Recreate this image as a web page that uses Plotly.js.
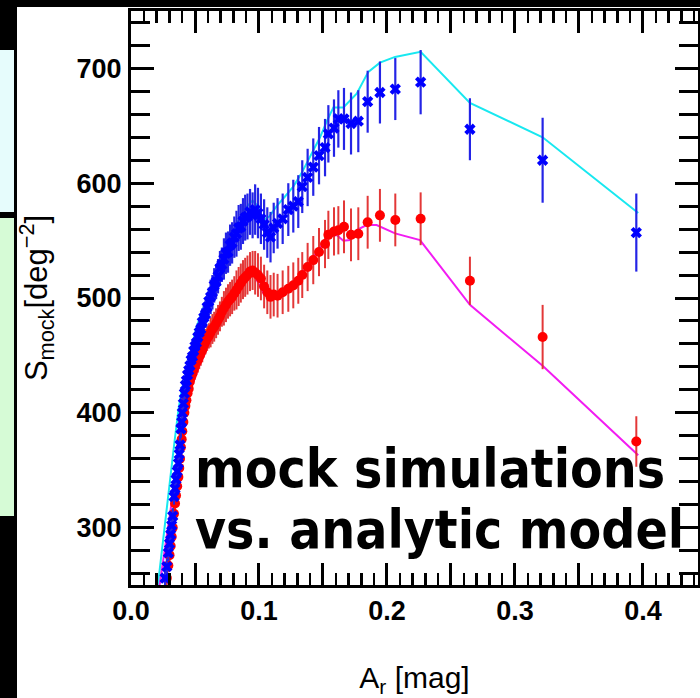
<!DOCTYPE html>
<html>
<head>
<meta charset="utf-8">
<script src="https://cdn.plot.ly/plotly-3.0.1.min.js"></script>
<style>
  html, body { margin: 0; padding: 0; background: #ffffff; }
  #chart { width: 700px; height: 698px; }
</style>
</head>
<body>
<div id="chart"></div>
<script>
// ---- data ----
const arMag = [0.0266,0.0280,0.0292,0.0301,0.0310,0.0318,0.0326,0.0336,0.0344,0.0352,
  0.0361,0.0370,0.0377,0.0383,0.0390,0.0396,0.0401,0.0409,0.0417,0.0425,
  0.0433,0.0442,0.0451,0.0460,0.0470,0.0480,0.0490,0.0500,0.0511,0.0522,
  0.0533,0.0545,0.0557,0.0569,0.0582,0.0595,0.0608,0.0622,0.0636,0.0650,
  0.0665,0.0680,0.0695,0.0710,0.0726,0.0742,0.0758,0.0774,0.0790,0.0807,
  0.0824,0.0841,0.0858,0.0875,0.0892,0.0910,0.0930,0.0950,0.0970,0.0992,
  0.1015,0.1040,0.1065,0.1090,0.1115,0.1145,0.1185,0.1229,0.1268,0.1307,
  0.1338,0.1380,0.1424,0.1469,0.1516,0.1542,0.1586,0.1620,0.1664,0.1719,
  0.1776,0.1849,0.1945,0.2065,0.2263,0.2648,0.3216,0.3948];

const mockBlue = [256,266,278,286,294,302,310,327,334,342,
  349,356,364,372,386,392,400,408,417,424,
  428,433,437,441,446,449,454,458,461,466,
  470,473,479,483,486,492,497,501,505,511,
  514,519,526,529,534,539,540,546,548,553,
  556,561,562,567,570,571,575,572,577,574,
  569,564,557,553,561,565,569,577,580,584,
  597,605,614,624,631,643,648,656,656,652,
  654,671,679,682,688,647,620,557];

const errBlue = [7,7,7,7,7,7,7,7,7,7,7,7,7,
  8,8,8,8,8,8,8,
  10,10,10,10,10,10,10,10,
  12,12,12,12,12,12,12,12,12,
  15,15,15,15,15,15,15,
  18,18,18,18,18,18,
  20,20,20,20,20,20,20,20,
  22,22,22,22,22,22,22,22,22,
  23,23,23,23,
  25,25,25,25,25,25,25,
  27,27,27,27,27,27,
  28,27,37,34];

const mockRed = [244,256,267,276,284,292,300,312,321,328,
  336,344,352,360,370,377,384,392,400,406,
  411,417,421,427,431,434,438,441,444,446,
  449,452,455,459,462,465,467,470,473,475,
  478,481,484,488,491,494,497,499,501,504,
  507,510,513,516,518,520,523,524,522,520,
  517,510,505,501,503,502,505,508,511,515,
  520,527,533,540,547,555,558,559,562,555,
  556,566,572,568,569,515,466,375];

const errRed = [6,6,6,6,6,6,6,6,6,6,6,6,6,
  7,7,7,7,7,7,7,
  9,9,9,9,9,9,9,9,
  11,11,11,11,11,11,11,11,11,
  13,13,13,13,13,13,13,
  15,15,15,15,15,15,
  17,17,17,17,17,17,17,17,
  19,19,19,19,19,19,19,19,19,
  20,20,20,20,
  21,21,21,21,21,21,21,
  23,23,23,23,23,23,
  23,21,28,22];

const modelBlueX = [0.0200,0.0214,0.0260,0.0300,0.0340,0.0370,0.0396,0.0435,0.0470,0.0513,
  0.0560,0.0614,0.0690,0.0742,0.0800,0.0840,0.0900,0.0950,0.0990,0.1034,
  0.1080,0.1138,0.1200,0.1268,0.1334,0.1372,0.1420,0.1477,0.1530,0.1581,
  0.1659,0.1763,0.1854,0.1945,0.2063,0.2263,0.2648,0.3216,0.3963];
const modelBlueY = [240,254,298,337,375,402,420,436,455,475,
  490,504,522,540,556,568,579,585,580,568,
  571,580,588,597,609,617,628,640,654,666,
  666,678,697,705,710,714.5,670,640,574];

const modelRedX = [0.0200,0.0240,0.0280,0.0320,0.0360,0.0400,0.0440,0.0480,0.0530,0.0600,
  0.0680,0.0760,0.0840,0.0900,0.0950,0.1000,0.1040,0.1090,0.1150,0.1230,
  0.1300,0.1399,0.1477,0.1541,0.1607,0.1659,0.1711,0.1763,0.1841,0.1919,
  0.2063,0.2258,0.2648,0.3216,0.3963];
const modelRedY = [232,262,292,322,355,385,408,425,440,458,
  477,494,507,517,523,512,503,500,502,508,
  516,531.6,543,553.4,554.9,549.9,550.5,559.2,563.6,563.6,
  556.3,550.5,494,441,363];

const xTitle = 'A<sub>r</sub> [mag]';
const yTitle = 'S<sub>mock</sub>[deg<sup>\u22122</sup>]';
const noteLines = ['<b>mock simulations</b>', '<b>vs. analytic model</b>'];

// ---- layout helpers (pixel -> paper) ----
const L = 131, R = 698, T = 11, B = 585;
const fx = p => (p - L) / (R - L);
const fy = p => (B - p) / (B - T);

const traces = [
  { x: modelBlueX, y: modelBlueY, type: 'scatter', mode: 'lines',
    line: { color: '#18e8f0', width: 2 }, hoverinfo: 'skip' },
  { x: modelRedX, y: modelRedY, type: 'scatter', mode: 'lines',
    line: { color: '#f21cf2', width: 2 }, hoverinfo: 'skip' },
  { x: arMag, y: mockRed, type: 'scatter', mode: 'markers',
    marker: { symbol: 'circle', size: 10, color: '#ff0000' },
    error_y: { type: 'data', array: errRed, color: 'rgba(225,45,45,0.95)', thickness: 2, width: 0 } },
  { x: arMag, y: mockBlue, type: 'scatter', mode: 'markers',
    marker: { symbol: 'x', size: 10, color: '#0000ff' },
    error_y: { type: 'data', array: errBlue, color: '#2424e6', thickness: 2.2, width: 0 } }
];

const tickFont = { family: 'Liberation Sans, Arial, sans-serif', size: 27, color: '#000', weight: 'bold' };
const titleFont = { family: 'Liberation Sans, Arial, sans-serif', size: 30, color: '#000' };
const noteFont = { family: 'DejaVu Sans Condensed, DejaVu Sans, sans-serif', size: 53, color: '#000' };

const layout = {
  width: 700, height: 698,
  margin: { l: L, r: 700 - R, t: T, b: 698 - B, pad: 0 },
  paper_bgcolor: '#ffffff', plot_bgcolor: '#ffffff',
  showlegend: false,
  xaxis: {
    range: [0, 0.443], tickmode: 'linear', tick0: 0, dtick: 0.05, ticklabelstep: 2,
    tickformat: '.1f', ticks: 'inside', ticklen: 22, tickwidth: 3, tickcolor: '#000',
    minor: { dtick: 0.01, ticks: 'inside', ticklen: 12, tickwidth: 2.5, tickcolor: '#000' },
    showline: true, linewidth: 3, linecolor: '#000', mirror: 'allticks',
    showgrid: false, zeroline: false, tickfont: tickFont, ticklabelstandoff: 0,
    title: { text: xTitle, font: titleFont, standoff: 48 }
  },
  yaxis: {
    range: [250, 750], tickmode: 'linear', tick0: 0, dtick: 100,
    ticks: 'inside', ticklen: 23, tickwidth: 3, tickcolor: '#000',
    minor: { dtick: 20, ticks: 'inside', ticklen: 19, tickwidth: 3, tickcolor: '#000' },
    showline: true, linewidth: 3, linecolor: '#000', mirror: 'allticks',
    showgrid: false, zeroline: false, tickfont: tickFont, ticklabelstandoff: 1,
    title: { text: yTitle, font: { family: 'Liberation Sans, Arial, sans-serif', size: 31, color: '#000' }, standoff: 20 }
  },
  shapes: [
    { type: 'rect', xref: 'paper', yref: 'paper', x0: fx(0), x1: fx(700), y0: fy(7), y1: fy(0),
      fillcolor: '#000', line: { width: 0 }, layer: 'above' },
    { type: 'rect', xref: 'paper', yref: 'paper', x0: fx(0), x1: fx(17), y0: fy(698), y1: fy(0),
      fillcolor: '#000', line: { width: 0 }, layer: 'above' },
    { type: 'rect', xref: 'paper', yref: 'paper', x0: fx(0), x1: fx(14), y0: fy(212), y1: fy(50),
      fillcolor: '#e6fcfc', line: { width: 0 }, layer: 'above' },
    { type: 'rect', xref: 'paper', yref: 'paper', x0: fx(0), x1: fx(14), y0: fy(516), y1: fy(218),
      fillcolor: '#d6fbd6', line: { width: 0 }, layer: 'above' }
  ],
  annotations: [
    { text: noteLines[0], xref: 'paper', yref: 'paper', x: fx(193), y: fy(468),
      xanchor: 'left', yanchor: 'middle', align: 'left', showarrow: false, font: noteFont },
    { text: noteLines[1], xref: 'paper', yref: 'paper', x: fx(193), y: fy(529),
      xanchor: 'left', yanchor: 'middle', align: 'left', showarrow: false, font: noteFont }
  ]
};

Plotly.newPlot('chart', traces, layout, { staticPlot: true, displayModeBar: false });
</script>
</body>
</html>
